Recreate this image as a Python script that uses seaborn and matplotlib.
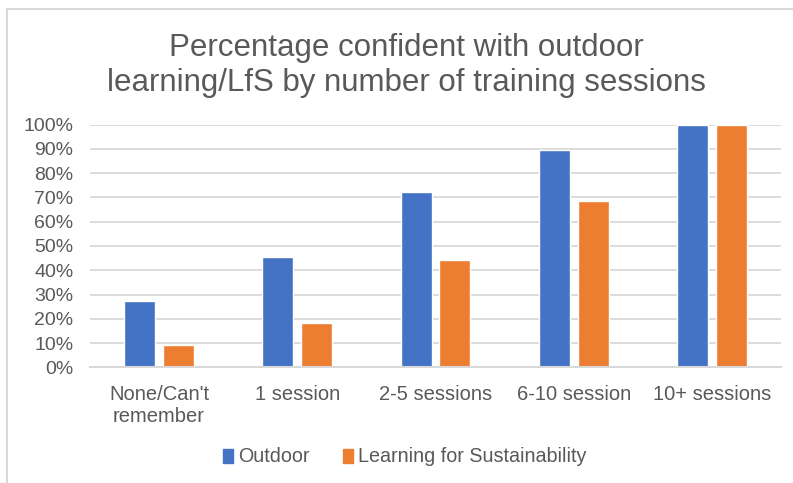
import pandas as pd
import matplotlib.pyplot as plt
import matplotlib.lines as mlines
import matplotlib.ticker as mticker
import seaborn as sns

# data
categories = ["None/Can't\nremember", "1 session", "2-5 sessions", "6-10 session", "10+ sessions"]
outdoor = [27.3, 45.5, 72.2, 89.5, 100.0]
lfs = [9.1, 18.2, 44.4, 68.4, 100.0]
series = ["Outdoor", "Learning for Sustainability"]

df = pd.DataFrame({
    "Category": categories * 2,
    "Series": [series[0]] * len(categories) + [series[1]] * len(categories),
    "Value": outdoor + lfs,
})

sns.set_theme(style="white")
plt.rcParams['font.family'] = ['Liberation Sans', 'DejaVu Sans']
TXT = "#595959"
GRID = "#D9D9D9"
pal = {"Outdoor": "#4472C4", "Learning for Sustainability": "#ED7D31"}

fig = plt.figure(figsize=(7.93, 4.83), dpi=100)
ax = fig.add_axes([90 / 793, 1 - 367.3 / 483, (781 - 90) / 793, (367.3 - 124.7) / 483])

sns.barplot(data=df, x="Category", y="Value", hue="Series", palette=pal,
            width=0.56, gap=0.2, ax=ax, saturation=1, legend=False)

ax.set_ylim(0, 100)
ax.set_xlim(-0.5, len(categories) - 0.5)
ax.yaxis.set_major_locator(mticker.MultipleLocator(10))
ax.yaxis.set_major_formatter(mticker.FuncFormatter(lambda v, p: f"{int(v)}%"))
ax.set_axisbelow(True)
ax.grid(axis="y", color=GRID, linewidth=1.3)
for s in ["top", "right", "left"]:
    ax.spines[s].set_visible(False)
ax.spines["bottom"].set_color(GRID)
ax.spines["bottom"].set_linewidth(1.5)
ax.tick_params(axis="both", length=0, colors=TXT)
ax.tick_params(axis="x", pad=13, labelsize=14.5)
ax.tick_params(axis="y", pad=12, labelsize=14)
ax.set_xlabel("")
ax.set_ylabel("")
for lbl in ax.get_xticklabels():
    lbl.set_linespacing(1.15)

fig.text(0.512, 1 - 33 / 483,
         "Percentage confident with outdoor\nlearning/LfS by number of training sessions",
         ha="center", va="top", fontsize=22.5, color=TXT, linespacing=1.22)

handles = [plt.Rectangle((0, 0), 1, 1, color=pal[s]) for s in series]
fig.legend(handles, series, loc="center", bbox_to_anchor=(0.51, 1 - 457 / 483), ncol=2,
           frameon=False, fontsize=14.2, labelcolor=TXT, handlelength=0.5, handleheight=0.7,
           handletextpad=0.25, columnspacing=1.7)

# chart border (top and left only visible)
fig.add_artist(mlines.Line2D([7 / 793, 1], [1 - 9 / 483, 1 - 9 / 483], color=GRID, linewidth=1.5, transform=fig.transFigure))
fig.add_artist(mlines.Line2D([7 / 793, 7 / 793], [0, 1 - 9 / 483], color=GRID, linewidth=1.5, transform=fig.transFigure))

plt.savefig("out.png", dpi=100)
